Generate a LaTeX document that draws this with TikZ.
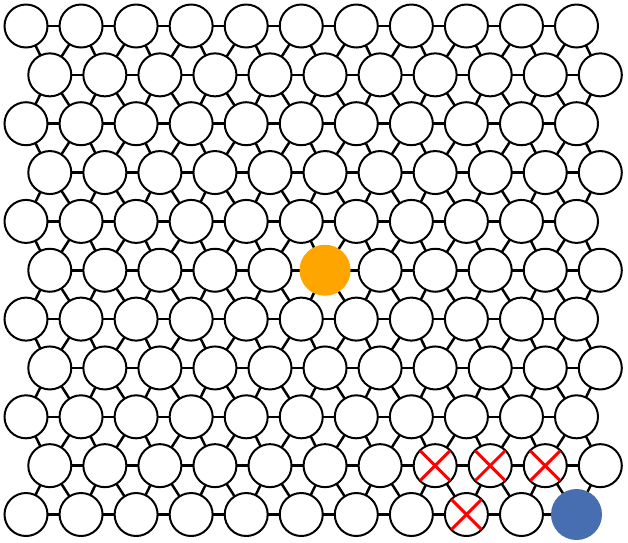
\documentclass[tikz,border=0pt]{standalone}
\usetikzlibrary{backgrounds}
\definecolor{dotorange}{RGB}{255,165,0}
\definecolor{dotblue}{RGB}{70,110,176}
\begin{document}
\begin{tikzpicture}[x=1pt,y=-1pt,
  cell/.style={circle,draw=black,line width=2pt,fill=white,minimum size=43pt,inner sep=0pt},
  spot/.style={circle,draw=none,minimum size=51pt,inner sep=0pt},
  link/.style={line width=2.5pt,black},
  xmark/.style={red,line width=3pt}]
\useasboundingbox (0,0) rectangle (628,542);
\foreach \r in {0,...,10}{
  \ifodd\r \def\xo{49.8}\else\def\xo{26}\fi
  \foreach \i in {0,...,10}{
    \node[cell] (n\r-\i) at ({\xo+55.05*\i},{26+48.85*\r}) {};
  }
}
\begin{pgfonlayer}{background}
\foreach \r in {0,...,10}{
  \foreach \i in {0,...,9}{
    \pgfmathtruncatemacro\k{\i+1}
    \draw[link] (n\r-\i.center) -- (n\r-\k.center);
  }
}
\foreach \r in {0,...,9}{
  \pgfmathtruncatemacro\s{\r+1}
  \foreach \i in {0,...,10}{
    \draw[link] (n\r-\i.center) -- (n\s-\i.center);
  }
  \ifodd\r
    \foreach \i in {0,...,9}{
      \pgfmathtruncatemacro\k{\i+1}
      \draw[link] (n\r-\i.center) -- (n\s-\k.center);
    }
  \else
    \foreach \i in {1,...,10}{
      \pgfmathtruncatemacro\k{\i-1}
      \draw[link] (n\r-\i.center) -- (n\s-\k.center);
    }
  \fi
}
\end{pgfonlayer}
\node[spot,fill=dotorange] (src) at (n5-5.center) {};
\node[spot,fill=dotblue] (dst) at (n10-10.center) {};
\foreach \r/\i in {9/7,9/8,9/9,10/8}{
  \draw[xmark] (n\r-\i.center) +(-15,-15) -- +(15,15);
  \draw[xmark] (n\r-\i.center) +(-15,15) -- +(15,-15);
}
\end{tikzpicture}
\end{document}
